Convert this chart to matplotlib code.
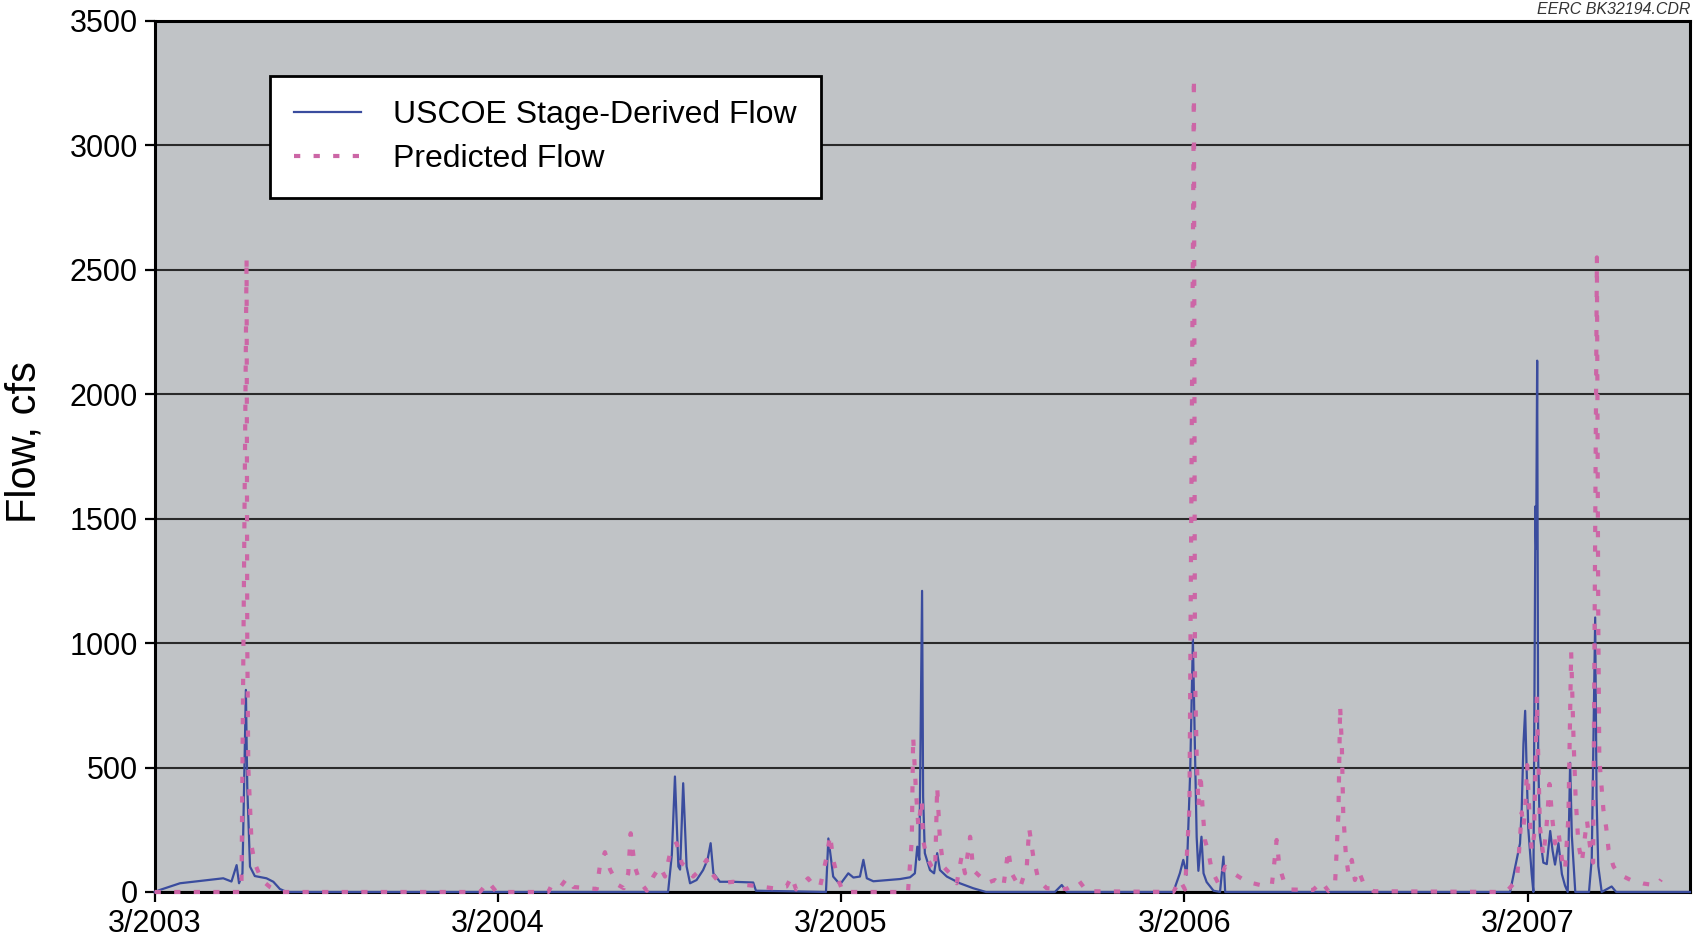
import matplotlib.pyplot as plt

# времена в долях года (3/2003 = 2003.167), расход в cfs
blue_t = [2003.167, 2003.182, 2003.241, 2003.279, 2003.367, 2003.391, 2003.406, 2003.413, 2003.423,
          2003.433, 2003.437, 2003.445, 2003.459, 2003.493, 2003.513, 2003.532, 2003.552,
          2004.663, 2004.674, 2004.683, 2004.693, 2004.698, 2004.707, 2004.717, 2004.727, 2004.746,
          2004.765, 2004.778, 2004.787, 2004.795, 2004.814, 2004.852, 2004.911, 2004.919,
          2005.123, 2005.130, 2005.138, 2005.144, 2005.164, 2005.188, 2005.203, 2005.222, 2005.232,
          2005.242, 2005.261, 2005.339, 2005.368, 2005.382, 2005.389, 2005.395, 2005.403, 2005.406,
          2005.411, 2005.426, 2005.438, 2005.447, 2005.455, 2005.475, 2005.513, 2005.552, 2005.589,
          2005.790, 2005.810, 2005.825,
          2006.135, 2006.154, 2006.164, 2006.174, 2006.184, 2006.192, 2006.198, 2006.203, 2006.208,
          2006.217, 2006.223, 2006.232, 2006.252, 2006.271, 2006.281, 2006.286,
          2007.116, 2007.145, 2007.150, 2007.155, 2007.160, 2007.165, 2007.169, 2007.179, 2007.184,
          2007.190, 2007.192, 2007.195, 2007.198, 2007.203, 2007.213, 2007.223, 2007.233, 2007.240,
          2007.247, 2007.257, 2007.267, 2007.276, 2007.284, 2007.291, 2007.296, 2007.306,
          2007.346, 2007.354, 2007.364, 2007.368, 2007.373, 2007.383, 2007.412, 2007.425, 2007.640]
blue_v = [0, 8, 35, 41, 55, 42, 108, 35, 75,
          812, 423, 102, 64, 55, 41, 12, 0,
          0, 150, 464, 102, 90, 437, 102, 35, 48,
          88, 130, 196, 75, 41, 41, 38, 5,
          0, 215, 130, 62, 30, 75, 58, 62, 129,
          55, 43, 52, 59, 75, 182, 129, 1210, 383,
          156, 88, 75, 156, 88, 62, 35, 15, 0,
          0, 28, 0,
          0, 75, 129, 70, 477, 1015, 570, 220, 85,
          222, 75, 40, 5, 0, 142, 0,
          0, 195, 334, 595, 728, 457, 257, 72, 0,
          1550, 1380, 2135, 535, 226, 118, 112, 245, 165,
          110, 196, 72, 26, 0, 519, 226, 0,
          0, 133, 1103, 380, 104, 0, 22, 0, 0]

pred_t = [2003.167, 2003.420, 2003.435, 2003.437, 2003.440, 2003.450, 2003.459, 2003.479, 2003.503,
          2003.532, 2004.115, 2004.139, 2004.163, 2004.314, 2004.324, 2004.348, 2004.368, 2004.387,
          2004.455, 2004.464, 2004.479, 2004.494, 2004.518, 2004.534, 2004.547, 2004.554, 2004.566,
          2004.581, 2004.601, 2004.620, 2004.639, 2004.654, 2004.673, 2004.688, 2004.703, 2004.717,
          2004.736, 2004.756, 2004.775, 2004.790, 2004.814, 2004.853, 2004.892, 2004.931, 2004.969,
          2005.008, 2005.023, 2005.036, 2005.057, 2005.071, 2005.086, 2005.106, 2005.125, 2005.135,
          2005.144, 2005.159, 2005.173, 2005.362, 2005.373, 2005.377, 2005.385, 2005.392, 2005.402,
          2005.406, 2005.416, 2005.431, 2005.441, 2005.447, 2005.455, 2005.465, 2005.484, 2005.504,
          2005.518, 2005.528, 2005.543, 2005.552, 2005.572, 2005.591, 2005.615, 2005.640, 2005.654,
          2005.664, 2005.688, 2005.708, 2005.715, 2005.727, 2005.742, 2005.766, 2005.824, 2005.860,
          2005.883, 2006.135, 2006.140, 2006.154, 2006.169, 2006.182, 2006.195, 2006.197, 2006.198,
          2006.203, 2006.208, 2006.214, 2006.222, 2006.227, 2006.237, 2006.247, 2006.256, 2006.266,
          2006.286, 2006.295, 2006.310, 2006.349, 2006.388, 2006.422, 2006.428, 2006.436, 2006.444,
          2006.456, 2006.475, 2006.542, 2006.567, 2006.587, 2006.606, 2006.616, 2006.621, 2006.626,
          2006.630, 2006.638, 2006.645, 2006.655, 2006.664, 2006.674, 2006.689, 2006.718,
          2007.087, 2007.111, 2007.136, 2007.140, 2007.150, 2007.155, 2007.160, 2007.166, 2007.172,
          2007.179, 2007.186, 2007.194, 2007.203, 2007.213, 2007.222, 2007.231, 2007.238, 2007.247,
          2007.257, 2007.267, 2007.276, 2007.286, 2007.294, 2007.301, 2007.307, 2007.315, 2007.325,
          2007.340, 2007.349, 2007.358, 2007.369, 2007.373, 2007.376, 2007.388, 2007.396, 2007.403,
          2007.417, 2007.432, 2007.466, 2007.504, 2007.544, 2007.556]
pred_v = [0, 0, 2550, 1000, 504, 182, 115, 48, 20,
          0, 0, 41, 0, 0, 28, 18, 55, 20,
          12, 102, 160, 90, 28, 15, 75, 236, 102,
          41, 5, 62, 102, 62, 182, 196, 115, 102,
          62, 88, 129, 75, 35, 41, 28, 22, 15,
          22, 62, 10, 35, 55, 28, 22, 142, 229,
          129, 48, 0, 0, 209, 624, 410, 263, 370,
          209, 142, 102, 88, 423, 209, 102, 75, 35,
          142, 75, 222, 88, 62, 35, 48, 22, 169,
          75, 15, 102, 256, 142, 48, 15, 12, 45,
          3, 0, 12, 48, 10, 343, 3270, 1500, 880,
          544, 343, 477, 300, 209, 160, 88, 62, 35,
          102, 88, 75, 41, 28, 28, 102, 209, 102,
          48, 10, 8, 41, 3, 28, 316, 745, 584,
          316, 142, 75, 129, 48, 88, 35, 3,
          0, 10, 48, 118, 320, 260, 334, 510, 334,
          165, 226, 785, 260, 145, 260, 434, 308, 195,
          241, 133, 87, 300, 965, 611, 380, 195, 118,
          288, 182, 118, 2550, 1100, 535, 330, 260, 170,
          104, 72, 49, 34, 26, 50]

tick_pos = [2003.167, 2004.167, 2005.167, 2006.167, 2007.167]
tick_labels = ['3/2003', '3/2004', '3/2005', '3/2006', '3/2007']
y_ticks = [0, 500, 1000, 1500, 2000, 2500, 3000, 3500]

plt.rcParams['font.family'] = ['Liberation Sans', 'DejaVu Sans']

fig = plt.figure(figsize=(16.95, 9.48), dpi=100)
ax = fig.add_axes([0.0912, 0.0591, 0.9058, 0.9188])
ax.set_facecolor('#c0c3c6')

# линии: синяя - измеренный расход, розовая пунктирная - прогноз
ax.plot(blue_t, blue_v, color='#3a4c9e', lw=1.6, label='USCOE Stage-Derived Flow',
        zorder=3, clip_on=False)
ax.plot(pred_t, pred_v, color='#cc66a6', lw=3, dashes=(1.5, 3.2), label='Predicted Flow',
        zorder=4, clip_on=False)

ax.set_xlim(2003.167, 2007.640)
ax.set_ylim(0, 3500)
ax.set_xticks(tick_pos)
ax.set_xticklabels(tick_labels)
ax.set_yticks(y_ticks)
ax.tick_params(axis='both', labelsize=22, length=7, width=1.6, direction='out', color='black', pad=5)
ax.grid(axis='y', color='#2a2a2a', lw=1.5)
ax.set_axisbelow(True)
for s in ax.spines.values():
    s.set_linewidth(2.2)
    s.set_color('black')

# подпись оси y как текст фигуры, чтобы не обрезалась
fig.text(0.0145, 0.534, 'Flow, cfs', rotation=90, ha='center', va='center', fontsize=30)

leg = ax.legend(loc='upper left', bbox_to_anchor=(0.1593, 0.9198), bbox_transform=fig.transFigure,
                fontsize=23, frameon=True, fancybox=False, framealpha=1, edgecolor='black',
                borderpad=0.75, handlelength=2.1, handletextpad=1.0, labelspacing=0.43,
                borderaxespad=0)
leg.get_frame().set_linewidth(2)

fig.text(0.997, 0.982, 'EERC BK32194.CDR', ha='right', va='bottom', fontsize=11.5,
         style='italic', color='#333333')

fig.savefig('out.png', dpi=100)
